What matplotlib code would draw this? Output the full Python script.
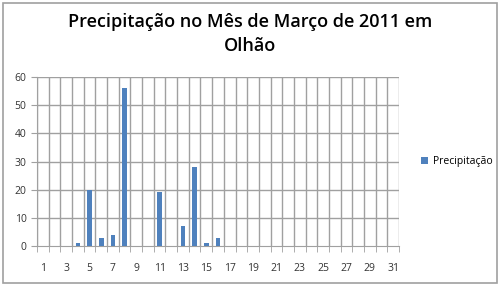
import numpy as np
import matplotlib.pyplot as plt
from matplotlib.patches import Rectangle

# daily rainfall (mm), March 2011, Olhão
days = list(range(1, 32))
rain = [0, 0, 0, 1, 20, 3, 4, 56, 0, 0, 19, 0, 7, 28, 1, 3] + [0] * 15
yticks = [0, 10, 20, 30, 40, 50, 60]
xlabels = [str(d) if d % 2 == 1 else '' for d in days]

plt.rcParams['font.family'] = ['Open Sans', 'DejaVu Sans']

fig = plt.figure(figsize=(5, 2.86), dpi=100)
ax = fig.add_axes([37 / 500, 1 - 246 / 286, 362 / 500, 169 / 286])

ax.bar(days, rain, width=0.4, color='#4F81BD', label='Precipitação', zorder=3)

ax.set_xlim(0.5, 31.5)
ax.set_ylim(0, 60)
ax.set_yticks(yticks)
ax.set_xticks(days)
ax.set_xticklabels(xlabels)
ax.set_xticks(np.arange(0.5, 32, 1), minor=True)

# category gridlines + value gridlines
for x in np.arange(0.5, 32, 1):
    ax.axvline(x, color='#a0a0a0', lw=1, zorder=1)
for y in yticks[1:]:
    ax.axhline(y, color='#a0a0a0', lw=1, zorder=1)

for s in ['top', 'right']:
    ax.spines[s].set_visible(False)
ax.spines['left'].set_color('#a0a0a0')
ax.spines['bottom'].set_color('#a0a0a0')

ax.tick_params(axis='x', which='major', length=0, labelsize=7.5, pad=12, colors='#333333')
ax.tick_params(axis='x', which='minor', length=4, color='#a0a0a0', direction='out')
ax.tick_params(axis='y', length=4, color='#a0a0a0', labelsize=7.5, colors='#333333')

fig.text(0.5, 1 - 22 / 286, 'Precipitação no Mês de Março de 2011 em', ha='center', va='center',
         fontsize=13, fontweight='semibold')
fig.text(0.5, 1 - 46 / 286, 'Olhão', ha='center', va='center',
         fontsize=13, fontweight='semibold')

ax.legend(loc='center left', bbox_to_anchor=(1.035, 0.5), frameon=False,
          fontsize=7.5, handlelength=0.7, handleheight=0.7, handletextpad=0.4)

fig.patches.append(Rectangle((3 / 500, 3 / 286), 494 / 500, 280 / 286, transform=fig.transFigure,
                             fill=False, edgecolor='#a0a0a0', lw=1.2))

fig.savefig('out.png', dpi=100)
